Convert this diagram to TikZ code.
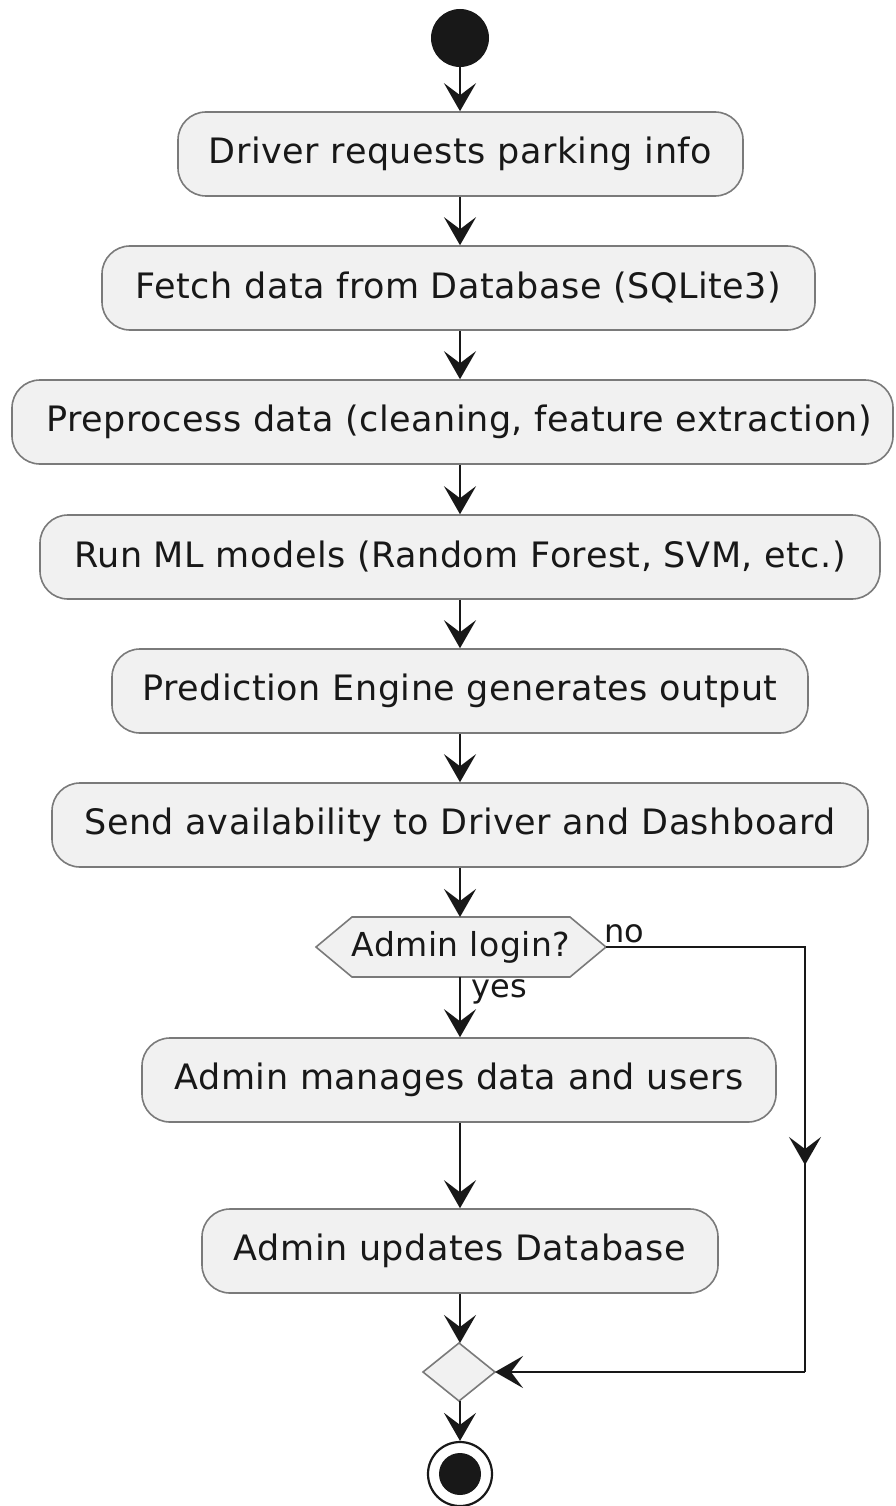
\documentclass[tikz,border=0pt]{standalone}
\usepackage{fontspec}
\setmainfont{DejaVu Sans}[LetterSpace=1.5]
\usetikzlibrary{arrows.meta,calc}
\definecolor{boxfill}{HTML}{F1F1F1}
\definecolor{boxline}{HTML}{7A7A7A}
\definecolor{ink}{HTML}{181818}
\tikzset{
  act/.style={draw=boxline, line width=1.6pt, fill=boxfill, rounded corners=28pt,
    minimum height=84pt, inner sep=0pt, font=\fontsize{35}{40}\selectfont, text=ink},
  flow/.style={draw=ink, line width=2.6pt, -{Stealth[length=28pt,width=32pt,inset=12pt]}},
  lbl/.style={font=\fontsize{32}{36}\selectfont, text=ink, inner sep=0pt},
}
\begin{document}
\begin{tikzpicture}[x=1pt,y=-1pt]
\useasboundingbox (0,0) rectangle (896,1506);
\fill[white] (0,0) rectangle (896,1506);
% start
\node[circle, fill=ink, minimum size=58pt, inner sep=0pt] (start) at (460,38) {};
% activities
\node[act, minimum width=565pt] (b1) at (460.5,154) {Driver requests parking info};
\node[act, minimum width=713pt] (b2) at (458.5,288) {Fetch data from Database (SQLite3)};
\node[act, minimum width=881pt] (b3) at (452.5,422) {\hspace*{14pt}Preprocess data (cleaning, feature extraction)};
\node[act, minimum width=840pt] (b4) at (460,557) {Run ML models (Random Forest, SVM, etc.)};
\node[act, minimum width=696pt] (b5) at (460,691) {Prediction Engine generates output};
\node[act, minimum width=816pt] (b6) at (460,825) {Send availability to Driver and Dashboard};
% decision hexagon
\coordinate (d) at (461,947);
\draw[draw=boxline, line width=1.6pt, fill=boxfill]
  ($(d)+(-145,0)$) -- ($(d)+(-109,-30)$) -- ($(d)+(109,-30)$) -- ($(d)+(145,0)$)
  -- ($(d)+(109,30)$) -- ($(d)+(-109,30)$) -- cycle;
\node[font=\fontsize{33}{38}\selectfont, text=ink, inner sep=0pt, minimum height=60pt] (dec) at (d) {Admin login?};
\coordinate (decS) at ($(d)+(0,30)$);
\coordinate (decE) at ($(d)+(145,0)$);
\coordinate (decN) at ($(d)+(0,-30)$);
\node[act, minimum width=634pt] (b7) at (459,1080) {Admin manages data and users};
\node[act, minimum width=516pt] (b8) at (460,1251) {Admin updates Database};
% merge diamond
\coordinate (m) at (459,1372);
\draw[draw=boxline, line width=1.6pt, fill=boxfill]
  ($(m)+(0,-29)$) -- ($(m)+(36,0)$) -- ($(m)+(0,29)$) -- ($(m)+(-36,0)$) -- cycle;
\coordinate (mN) at ($(m)+(0,-29)$);
\coordinate (mE) at ($(m)+(36,0)$);
\coordinate (mS) at ($(m)+(0,29)$);
% end
\node[circle, draw=ink, line width=2.2pt, fill=white, minimum size=64pt, inner sep=0pt] (end) at (460,1474) {};
\node[circle, fill=ink, minimum size=42pt, inner sep=0pt] at (end) {};
% flows
\draw[flow] (start.south) -- (start.south |- b1.north);
\draw[flow] (b1.south -| start) -- (start |- b2.north);
\draw[flow] (start |- b2.south) -- (start |- b3.north);
\draw[flow] (start |- b3.south) -- (start |- b4.north);
\draw[flow] (start |- b4.south) -- (start |- b5.north);
\draw[flow] (start |- b5.south) -- (start |- b6.north);
\draw[flow] (start |- b6.south) -- (start |- decN);
\draw[flow] (start |- decS) -- (start |- b7.north);
\draw[flow] (start |- b7.south) -- (start |- b8.north);
\draw[flow] (start |- b8.south) -- (start |- mN);
\draw[flow] (start |- mS) -- (start |- end.north);
\coordinate (nc1) at (805,947);
\coordinate (nc2) at (805,1372);
\draw[draw=ink, line width=2.6pt] (decE) -- (nc1) -- (nc2);
\draw[flow] (nc1) -- (805,1165);
\draw[flow] (nc2) -- (mE);
% labels
\node[lbl, anchor=south west] (no) at (604,943) {no};
\node[lbl, anchor=north west] (yes) at (471,979) {yes};
\end{tikzpicture}
\end{document}
